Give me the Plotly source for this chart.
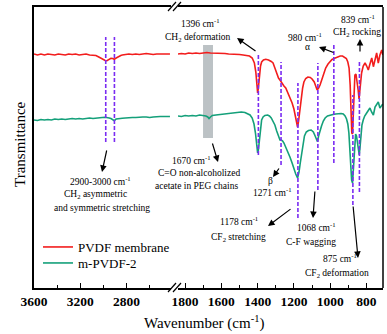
import plotly.graph_objects as go

# ---------------- data (transmittance, arbitrary units) ----------------
# left segment of the broken axis (3600 - 2416 cm-1)
wn_left = [3600, 3570, 3540, 3510, 3480, 3450, 3420, 3390, 3360, 3330, 3300, 3270, 3240,
           3210, 3180, 3150, 3120, 3090, 3065, 3040, 3010, 2985, 2970, 2950, 2935, 2920,
           2906, 2890, 2870, 2850, 2837, 2810, 2780, 2750, 2720, 2690, 2660, 2630, 2600,
           2570, 2540, 2510, 2480, 2450, 2425]
pvdf_left = [234, 233, 234, 233, 234, 233.5, 233, 234, 233.5, 233, 234, 233.5, 234,
             233, 233.5, 234, 233, 233, 232.5, 231, 229, 227.5, 227.3, 228.5, 229.7, 229.5,
             228.7, 230, 231.5, 232.5, 233, 233.5, 234, 233.5, 234, 233.5, 234, 234.5, 234,
             233.5, 234, 234, 233.5, 234, 234]
mpvdf_left = [168, 167.5, 168.5, 168, 168.5, 168, 169, 168.5, 169, 168.5, 169, 169.5, 169,
              169.5, 169, 169.5, 170, 169.5, 170, 170, 170.5, 170.7, 170.7, 170, 169.5, 168.5,
              167.3, 169, 169.5, 169.5, 169.8, 170, 170.5, 170.5, 170.5, 171, 171, 171, 170.5,
              171, 171.5, 171.5, 171.5, 171.5, 171.5]

# right segment (1839 - 709 cm-1)
wn_right_pvdf = [1839, 1820, 1800, 1780, 1760, 1740, 1720, 1700, 1680, 1660, 1640, 1620, 1600,
                 1580, 1560, 1540, 1520, 1500, 1480, 1460, 1445, 1430, 1418, 1410, 1404, 1400,
                 1396, 1390, 1384, 1378, 1368, 1355, 1340, 1325, 1315, 1305, 1295, 1285, 1277,
                 1268, 1255, 1245, 1235, 1222, 1210, 1200, 1190, 1184, 1180, 1175, 1168, 1160,
                 1152, 1145, 1135, 1123, 1110, 1100, 1088, 1080, 1072, 1064, 1056, 1045, 1035,
                 1025, 1012, 1000, 990, 979, 968, 957, 945, 932, 920, 911, 903, 896, 890, 885,
                 881, 877, 873, 869, 864, 858, 852, 846, 841, 837, 832, 827, 818, 808, 799, 790,
                 781, 771, 762, 753, 744, 735, 726, 716, 710]
pvdf_right = [234, 234.5, 234, 235, 234.5, 235, 234.5, 235, 235.5, 235, 235, 234.5, 235,
              234.5, 234, 234, 233.5, 233.5, 233, 232.5, 232, 230, 225, 216, 203, 195,
              200, 213, 222, 226, 228, 228.7, 228, 226.5, 225, 220, 214, 210, 208,
              205, 202, 200, 196, 191, 185, 179, 170, 163, 161, 166, 178, 190,
              200, 206, 209.5, 211, 210.5, 209, 206, 202, 198, 200, 203, 209, 215,
              220, 224, 227, 228.5, 229.5, 230.5, 231.3, 232, 232, 231, 229.5, 226, 220, 203, 173,
              155, 154, 178, 203, 213, 214, 208, 198, 189, 196, 208, 215, 222, 225, 222, 218,
              224, 230, 221.3, 228, 235, 225, 233, 238, 233]

wn_right_m = [1839, 1820, 1800, 1780, 1760, 1740, 1720, 1700, 1685, 1675, 1668, 1660, 1650,
              1630, 1610, 1590, 1570, 1550, 1530, 1510, 1490, 1470, 1455, 1442, 1430, 1420,
              1412, 1405, 1400, 1396, 1390, 1384, 1378, 1370, 1360, 1345, 1335, 1325, 1315,
              1305, 1295, 1285, 1277, 1270, 1262, 1255, 1245, 1235, 1222, 1210, 1200, 1190,
              1180, 1172, 1165, 1158, 1150, 1142, 1132, 1120, 1105, 1093, 1083, 1075, 1070,
              1064, 1058, 1048, 1038, 1028, 1015, 1000, 985, 970, 955, 940, 928, 918, 910,
              903, 897, 892, 887, 882, 877, 873, 869, 865, 860, 855, 850, 845, 840, 836, 831,
              825, 818, 810, 799, 790, 781, 772, 762, 753, 744, 735, 726, 716, 710]
mpvdf_right = [172, 171.5, 172.5, 172, 172.5, 172, 173, 172.5, 172, 171, 169.5, 171, 172.5,
               173, 173.5, 174, 174.5, 175, 175.5, 176, 176, 175.5, 174.5, 173, 170, 164,
               155, 143, 135, 138, 151, 161, 168, 171, 172.5, 173, 172, 170, 167,
               163, 157, 151, 148, 148, 147, 145, 141, 137, 131, 125, 119, 114,
               110, 116, 125, 135, 144, 152, 156, 157.5, 158, 156, 152, 148, 146.3,
               152, 157, 162, 167, 170, 172, 173, 173.5, 174, 174.5, 174.5, 174, 172, 169,
               164, 155, 140, 120, 108, 105, 118, 138, 150, 154, 152, 147, 139, 133, 140, 155,
               163, 168, 172, 175, 178, 180, 176, 173, 181, 184, 186, 180, 183, 184]

# marked bands (cm-1)
bands_left = [2980, 2905]
bands_right = [1396, 1271, 1178, 1068, 980, 875, 839]
peg_band = [1701, 1646]   # C=O band of PEG acetate (shaded)

series_names = ["PVDF membrane", "m-PVDF-2"]

# ---------------- layout helpers ----------------
W, H = 387, 334
ML, MR, MT, MB = 34, 4, 7, 46
PW, PH = W - ML - MR, H - MT - MB


def px(x):
    return (x - ML) / PW


def py(y):
    return (MT + PH - y) / PH


RED = "#f21d1d"
GREEN = "#14a07a"
PURPLE = "#7a2cf2"
FONT = "Times New Roman, Liberation Serif, serif"

fig = go.Figure()
for xs, ys, c, n, ax, lg in [
    (wn_left, pvdf_left, RED, series_names[0], "x", "legend"),
    (wn_left, mpvdf_left, GREEN, series_names[1], "x", "legend2"),
    (wn_right_pvdf, pvdf_right, RED, series_names[0], "x2", "legend"),
    (wn_right_m, mpvdf_right, GREEN, series_names[1], "x2", "legend2"),
]:
    fig.add_trace(go.Scatter(x=xs, y=ys, mode="lines", name=n, legend=lg,
                             showlegend=(ax == "x2"), xaxis=ax, yaxis="y",
                             line=dict(color=c, width=1.6)))

# shaded band
fig.add_shape(type="rect", xref="x2", yref="y", x0=peg_band[0], x1=peg_band[1],
              y0=150, y1=243, fillcolor="#bcc2c5", line_width=0, layer="below")

# dashed band markers (y extents in transmittance units)
left_ext = [(146, 251), (146, 251)]
right_ext = [(133, 235), (123, 226), (70, 205), (98, 225), (125, 243), (83, 193), (96, 226)]
for b, (y0, y1) in zip(bands_left, left_ext):
    fig.add_shape(type="line", xref="x", yref="y", x0=b, x1=b, y0=y0, y1=y1,
                  line=dict(color=PURPLE, width=1.6, dash="4px,2px"))
for b, (y0, y1) in zip(bands_right, right_ext):
    fig.add_shape(type="line", xref="x2", yref="y", x0=b, x1=b, y0=y0, y1=y1,
                  line=dict(color=PURPLE, width=1.6, dash="4px,2px"))

# right border
fig.add_shape(type="line", xref="paper", yref="paper", x0=1, x1=1, y0=0, y1=1,
              line=dict(color="black", width=1.5))
# axis break marks
for yb in [(292, 283), (11, 2)]:
    for xo in (0, 5):
        fig.add_shape(type="line", xref="paper", yref="paper",
                      x0=px(168 + xo), x1=px(176 + xo), y0=py(yb[0]), y1=py(yb[1]),
                      line=dict(color="black", width=1.2))

# arrows: (tail_x, tail_y, tip_x, tip_y) in pixels
arrows = [(107, 149, 102, 172), (212, 142, 218, 162), (257, 52, 237, 38),
          (280, 167, 273, 177), (292, 208, 268, 226), (315, 190, 313, 218),
          (335, 53, 319, 47), (353, 205, 358, 258), (360, 53, 360, 39)]
for tx, ty, hx, hy in arrows:
    fig.add_annotation(x=px(hx), y=py(hy), xref="paper", yref="paper", text="",
                       showarrow=True, ax=tx - hx, ay=ty - hy, axref="pixel", ayref="pixel",
                       arrowhead=2, arrowsize=1.1, arrowwidth=1.2, arrowcolor="black",
                       standoff=0, startstandoff=0)

texts = [
    ("1396 cm<sup>-1</sup>", 200, 23), ("CH<sub>2</sub> deformation", 198, 37),
    ("980 cm<sup>-1</sup>", 305, 37), ("α", 307, 47),
    ("839 cm<sup>-1</sup>", 358, 19), ("CH<sub>2</sub> rocking", 357, 32),
    ("2900-3000 cm<sup>-1</sup>", 100, 181), ("CH<sub>2</sub> asymmetric", 95, 194),
    ("and symmetric stretching", 102, 208),
    ("1670 cm<sup>-1</sup>", 191, 160), ("C=O non-alcoholized", 199, 173),
    ("acetate in PEG chains", 196, 186),
    ("β", 270, 181), ("1271 cm<sup>-1</sup>", 272, 192),
    ("1178 cm<sup>-1</sup>", 239, 221), ("CF<sub>2</sub> stretching", 238, 237),
    ("1068 cm<sup>-1</sup>", 316, 227), ("C-F wagging", 311, 242),
    ("875 cm<sup>-1</sup>", 340, 258), ("CF<sub>2</sub> deformation", 337, 273),
]
for t, x, y in texts:
    fig.add_annotation(x=px(x), y=py(y), xref="paper", yref="paper", text=t,
                       showarrow=False, xanchor="center", yanchor="middle",
                       font=dict(family=FONT, size=9.5, color="black"))

# axis titles
fig.add_annotation(x=px(204), y=py(334), xref="paper", yref="paper",
                   text="Wavenumber (cm<sup>-1</sup>)", showarrow=False,
                   xanchor="center", yanchor="bottom",
                   font=dict(family=FONT, size=15, color="black"))
fig.add_annotation(x=px(10), y=py(144), xref="paper", yref="paper", text="Transmittance",
                   textangle=-90, showarrow=False,
                   font=dict(family=FONT, size=15, color="black"))

axis_common = dict(showline=True, linecolor="black", linewidth=1.5, mirror=True,
                   ticks="inside", ticklen=5, tickwidth=1.3, tickcolor="black",
                   showgrid=False, zeroline=False, anchor="y", automargin=False,
                   tickfont=dict(family=FONT, size=13.5, color="black", weight="bold"))

legend_common = dict(xanchor="left", yanchor="top", bgcolor="rgba(0,0,0,0)",
                     itemwidth=30, font=dict(family=FONT, size=13, color="black"))

fig.update_layout(
    width=W, height=H,
    margin=dict(l=ML, r=MR, t=MT, b=MB, autoexpand=False),
    paper_bgcolor="white", plot_bgcolor="white",
    xaxis=dict(domain=[0, px(171)], range=[3600, 2416],
               tickvals=[3600, 3200, 2800],
               minor=dict(tickvals=[3400, 3000, 2600], ticks="inside", ticklen=3,
                          tickwidth=1.2, tickcolor="black"),
               **axis_common),
    xaxis2=dict(domain=[px(178), 1], range=[1839, 709],
                tickvals=[1800, 1600, 1400, 1200, 1000, 800],
                minor=dict(tickvals=[1700, 1500, 1300, 1100, 900], ticks="inside",
                           ticklen=3, tickwidth=1.2, tickcolor="black"),
                **axis_common),
    yaxis=dict(range=[0, PH], showline=True, linecolor="black", linewidth=1.5,
               showticklabels=False, ticks="", showgrid=False, zeroline=False,
               anchor="x", automargin=False),
    showlegend=True,
    legend=dict(x=px(38), y=py(232), **legend_common),
    legend2=dict(x=px(38), y=py(248), **legend_common),
)

fig.write_html("out.html", config={"displayModeBar": False},
               post_script="document.body.style.margin='0px';document.body.style.overflow='hidden';")
